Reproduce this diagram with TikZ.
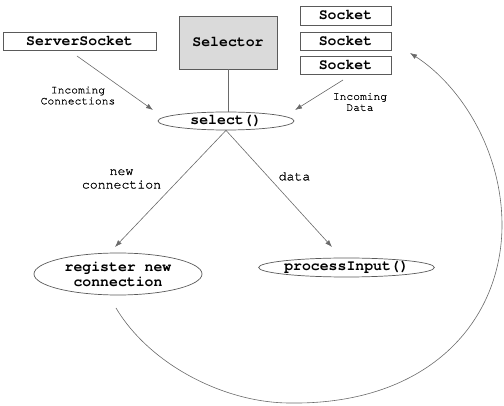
\documentclass[tikz,border=0pt]{standalone}
\usepackage{fontspec}
\newfontfamily\cour{TeX Gyre Cursor}
\newfontfamily\courmid{TeX Gyre Cursor}[FakeBold=0.8]
\newfontfamily\courlight{TeX Gyre Cursor}[FakeBold=0.4]
\usetikzlibrary{arrows.meta,shapes.geometric}
\definecolor{edgegray}{HTML}{5A5A5A}
\definecolor{linegray}{HTML}{6A6A6A}
\definecolor{selfill}{HTML}{DADADA}
\begin{document}
\begin{tikzpicture}[x=1pt,y=-1pt,
  boxst/.style={draw=edgegray, line width=0.7pt, inner sep=0pt, fill=white,
    font=\cour\bfseries\fontsize{14.8}{15}\selectfont},
  ellst/.style={ellipse, draw=edgegray, line width=0.7pt, inner sep=0pt, fill=white,
    align=center, font=\cour\bfseries\fontsize{14.8}{15}\selectfont},
  smalllab/.style={align=center, inner sep=0pt, font=\courlight\fontsize{11.3}{11}\selectfont},
  midlab/.style={align=center, inner sep=0pt, font=\courmid\fontsize{13.2}{13.5}\selectfont},
  conn/.style={draw=linegray, line width=0.6pt},
  arr/.style={conn, -{Latex[length=7pt,width=5pt]}}
]
\useasboundingbox (0,0) rectangle (504,406);

% boxes
\node[boxst, minimum width=153pt, minimum height=18pt] (ss) at (79.5,41) {ServerSocket};
\node[boxst, fill=selfill, minimum width=98pt, minimum height=53pt] (sel) at (228,42.5) {Selector};
\node[boxst, minimum width=91pt, minimum height=19pt] (s1) at (345.5,15.5) {Socket};
\node[boxst, minimum width=91pt, minimum height=18pt] (s2) at (345.5,41) {Socket};
\node[boxst, minimum width=91pt, minimum height=18pt] (s3) at (345.5,65) {Socket};

% ellipses
\node[ellst, minimum width=136pt, minimum height=18pt] (select) at (226,121) {select()};
\node[ellst, minimum width=168pt, minimum height=42pt] (reg) at (118,274) {register new\\connection};
\node[ellst, minimum width=167pt, minimum height=19pt] (proc) at (346.5,267.5) {processInput()};

% labels
\node[smalllab] (lic) at (78,95.5) {Incoming\\Connections};
\node[smalllab] (lid) at (360,102) {Incoming\\Data};
\node[midlab] (lnc) at (121.5,179) {new\\connection};
\node[midlab] (ldata) at (294.5,176.5) {data};

% connector end points
\coordinate (a1s) at (77,56);
\coordinate (a1e) at (153,110);
\coordinate (a2s) at (343,80);
\coordinate (a2e) at (295,110);
\coordinate (a3e) at (115,247);
\coordinate (a4e) at (332,247);
\coordinate (c0) at (116,308);
\coordinate (c1) at (290,403);
\coordinate (c2) at (502,225);
\coordinate (c3) at (410,53);

% connectors
\draw[conn] (sel.south) -- (sel.south |- select.north);
\draw[arr] (a1s) -- (a1e);
\draw[arr] (a2s) -- (a2e);
\draw[arr] (select.south) -- (a3e);
\draw[arr] (select.south) -- (a4e);
\draw[arr] (c0) .. controls (150,365) and (225,403) .. (c1)
  .. controls (430,405) and (502,320) .. (c2)
  .. controls (502,150) and (460,85) .. (c3);
\end{tikzpicture}
\end{document}
